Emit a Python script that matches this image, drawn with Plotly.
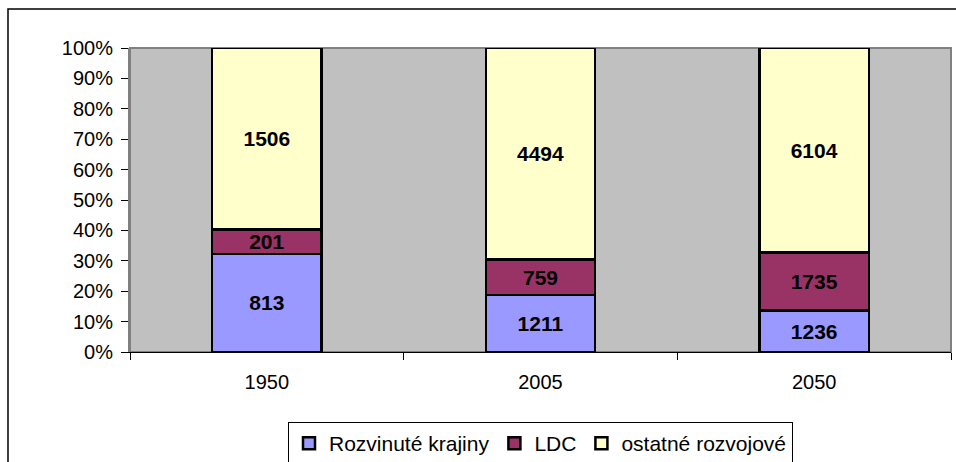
import plotly.graph_objects as go

years = ["1950", "2005", "2050"]
developed = [813, 1211, 1236]
ldc = [201, 759, 1735]
other = [1506, 4494, 6104]
series_names = ["Rozvinuté krajiny", "LDC", "ostatné rozvojové"]
colors = ["#9999FF", "#993366", "#FFFFCC"]

FONT = "Liberation Sans, Arial, sans-serif"

fig = go.Figure()
for name, vals, col in zip(series_names, [developed, ldc, other], colors):
    fig.add_trace(go.Bar(
        x=years, y=vals, name=name, text=[str(v) for v in vals],
        texttemplate="<b>%{text}</b>", textposition="inside",
        insidetextanchor="middle", constraintext="none",
        textfont=dict(family=FONT, size=21, color="black"),
        marker=dict(color=col, line=dict(color="black", width=2.5)),
    ))

fig.update_layout(
    width=956, height=462,
    barmode="stack", barnorm="percent", bargap=0.6,
    uniformtext=dict(minsize=21, mode="show"),
    paper_bgcolor="white", plot_bgcolor="#C0C0C0",
    margin=dict(l=130, r=5, t=48, b=110, autoexpand=False),
    font=dict(family=FONT, size=20, color="black"),
    showlegend=True,
    legend=dict(orientation="h", x=0.5, xanchor="center",
                yref="container", y=1 - 422 / 462, yanchor="top",
                bordercolor="black", borderwidth=1, font=dict(size=21),
                traceorder="normal", itemwidth=30, tracegroupgap=0),
    xaxis=dict(showgrid=False, showline=True, linecolor="black", linewidth=1,
               ticks="outside", tickson="boundaries", ticklen=7, tickcolor="black",
               ticklabelstandoff=12, automargin=False),
    yaxis=dict(range=[0, 100], tickmode="linear", dtick=10, ticksuffix="%",
               showgrid=False, showline=True, linecolor="#808080", linewidth=2,
               ticks="outside", ticklen=7, tickcolor="black", zeroline=False,
               ticklabelstandoff=4, automargin=False),
    shapes=[
        dict(type="rect", xref="paper", yref="paper", x0=0, x1=1, y0=0, y1=1,
             line=dict(color="#808080", width=2), layer="below"),
        dict(type="rect", xref="paper", yref="paper", x0=-0.1486, x1=1.2, y0=-0.5, y1=1.128,
             line=dict(color="black", width=1.5), layer="below"),
    ],
)

fig.write_html("out.html", config={"displayModeBar": False},
               post_script="document.body.style.margin='0';document.body.style.overflow='hidden';")
